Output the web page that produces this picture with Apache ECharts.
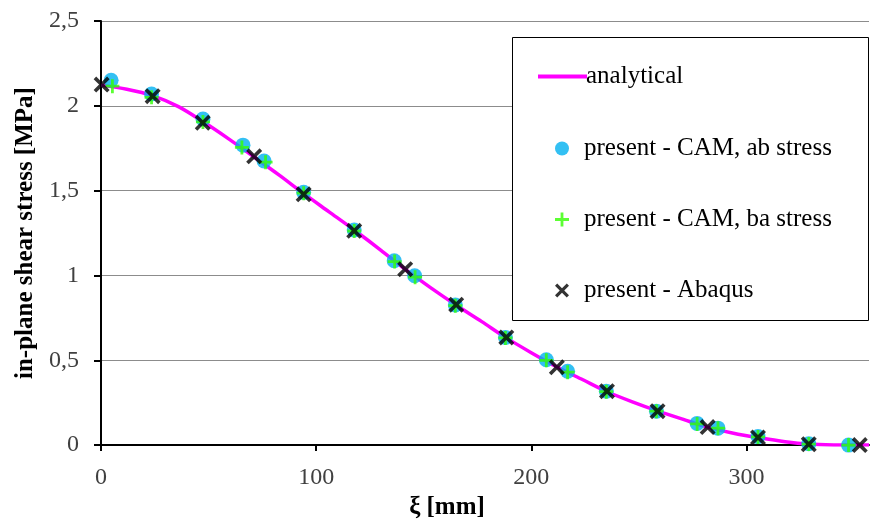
<!DOCTYPE html>
<html>
<head>
<meta charset="utf-8">
<script src="https://cdn.jsdelivr.net/npm/echarts@6/dist/echarts.min.js"></script>
<style>
html,body{margin:0;padding:0;background:#fff;}
#chart{width:870px;height:525px;}
</style>
</head>
<body>
<div id="chart"></div>
<script>
// Analytical curve
var analyticalX = [0, 12, 24, 36, 47, 59, 71, 83, 94, 106, 118, 130, 141, 153, 165, 177, 188, 200, 212, 224, 235, 247, 259, 271, 282, 294, 306, 318, 329, 341, 353, 357];
var analyticalY = [2.122, 2.098, 2.06, 1.995, 1.91, 1.808, 1.70, 1.59, 1.485, 1.375, 1.265, 1.15, 1.04, 0.93, 0.826, 0.728, 0.635, 0.545, 0.46, 0.385, 0.316, 0.255, 0.2, 0.15, 0.106, 0.07, 0.043, 0.02, 0.006, 0.001, 0, 0];

// present - CAM, ab stress
var abX = [4.7, 23.5, 47.4, 66.0, 75.8, 94.2, 117.7, 136.3, 145.8, 164.7, 188.0, 207.0, 216.9, 234.9, 258.2, 277.1, 286.8, 305.4, 329.0, 347.5];
var abY = [2.15, 2.07, 1.922, 1.768, 1.675, 1.49, 1.268, 1.087, 0.998, 0.826, 0.635, 0.503, 0.435, 0.318, 0.2, 0.128, 0.1, 0.05, 0.008, 0.0];

// present - CAM, ba stress
var baX = [5.3, 23.5, 47.4, 65.5, 76.5, 94.2, 117.7, 136.5, 146.0, 164.7, 188.0, 207.0, 216.9, 234.9, 258.2, 277.1, 286.8, 305.4, 329.0, 347.5];
var baY = [2.116, 2.05, 1.905, 1.755, 1.668, 1.485, 1.262, 1.082, 0.99, 0.822, 0.632, 0.5, 0.43, 0.315, 0.2, 0.125, 0.1, 0.048, 0.006, 0.0];

// present - Abaqus
var abaqusX = [0.3, 24, 47.3, 71.2, 94.2, 117.7, 141.4, 165.1, 188.4, 211.9, 235.2, 258.7, 282, 305.4, 329, 352.7];
var abaqusY = [2.125, 2.057, 1.9, 1.702, 1.478, 1.263, 1.037, 0.828, 0.635, 0.459, 0.318, 0.2, 0.106, 0.045, 0.005, 0.0];

var seriesNames = ['analytical', 'present - CAM, ab stress', 'present - CAM, ba stress', 'present - Abaqus'];
var xTicks = [0, 100, 200, 300];
var yTicks = ['0', '0,5', '1', '1,5', '2', '2,5'];

function zip(xs, ys) { return xs.map(function (x, i) { return [x, ys[i]]; }); }

var plusPath = 'path://M4,0H6V4H10V6H6V10H4V6H0V4H4Z';
var xPath = 'path://M0,1.6L1.6,0L5,3.4L8.4,0L10,1.6L6.6,5L10,8.4L8.4,10L5,6.6L1.6,10L0,8.4L3.4,5Z';

var font = '"Liberation Serif", "DejaVu Serif", serif';

var chart = echarts.init(document.getElementById('chart'), null, { renderer: 'canvas' });
chart.setOption({
  animation: false,
  backgroundColor: '#fff',
  textStyle: { fontFamily: font },
  grid: { left: 101, top: 21, width: 768, height: 427, containLabel: false },
  xAxis: {
    type: 'value', min: 0, max: 357, interval: 100,
    name: 'ξ [mm]', nameLocation: 'middle', nameGap: 49,
    nameTextStyle: { fontFamily: font, fontWeight: 'bold', fontSize: 25, color: '#000', padding: [0, 76, 0, 0] },
    axisLine: { lineStyle: { color: '#000', width: 2 } },
    axisTick: { show: true, length: 6, inside: false, lineStyle: { color: '#000', width: 2 } },
    axisLabel: {
      fontFamily: font, fontSize: 24, color: '#404040', margin: 21, showMaxLabel: false,
      formatter: function (v) { return xTicks.indexOf(v) >= 0 ? String(v) : ''; }
    },
    splitLine: { show: false }
  },
  yAxis: {
    type: 'value', min: 0, max: 2.5, interval: 0.5,
    name: 'in-plane shear stress [MPa]', nameLocation: 'middle', nameGap: 60,
    nameTextStyle: { fontFamily: font, fontWeight: 'bold', fontSize: 25, color: '#000' },
    axisLine: { show: true, lineStyle: { color: '#000', width: 2 } },
    axisTick: { show: true, length: 7, inside: false, lineStyle: { color: '#000', width: 2 } },
    axisLabel: {
      fontFamily: font, fontSize: 24, color: '#404040', margin: 22,
      formatter: function (v) { return yTicks[Math.round(v / 0.5)]; }
    },
    splitLine: { show: true, lineStyle: { color: '#8c8c8c', width: 1 } }
  },
  graphic: [{
    type: 'rect', z: 50,
    shape: { x: 512.5, y: 37.5, width: 356, height: 283 },
    style: { fill: '#fff', stroke: '#000', lineWidth: 1 }
  }],
  legend: [{
    z: 60, orient: 'vertical', left: 533, top: 59,
    data: [{ name: seriesNames[0], icon: 'rect' }],
    itemWidth: 49, itemHeight: 4, itemGap: 0,
    textStyle: { fontFamily: font, fontSize: 25, color: '#000', padding: [0, 0, 0, -6] }
  }, {
    z: 60, orient: 'vertical', left: 550, top: 131,
    data: [seriesNames[1], seriesNames[2], seriesNames[3]],
    itemWidth: 14, itemHeight: 14, itemGap: 46,
    textStyle: { fontFamily: font, fontSize: 25, color: '#000', padding: [0, 0, 0, 10] }
  }],
  series: [{
    name: seriesNames[0], type: 'line', data: zip(analyticalX, analyticalY),
    showSymbol: false, symbol: 'none', smooth: 0.3,
    lineStyle: { color: '#ff00ff', width: 3.5 }, itemStyle: { color: '#ff00ff' }, z: 2
  }, {
    name: seriesNames[1], type: 'scatter', data: zip(abX, abY),
    symbol: 'circle', symbolSize: 15, itemStyle: { color: '#00b0f0' }, z: 3
  }, {
    name: seriesNames[2], type: 'scatter', data: zip(baX, baY),
    symbol: plusPath, symbolSize: 14, itemStyle: { color: '#33ff00' }, z: 4
  }, {
    name: seriesNames[3], type: 'scatter', data: zip(abaqusX, abaqusY),
    symbol: xPath, symbolSize: 16, itemStyle: { color: '#000' }, z: 5
  }]
});
</script>
</body>
</html>
